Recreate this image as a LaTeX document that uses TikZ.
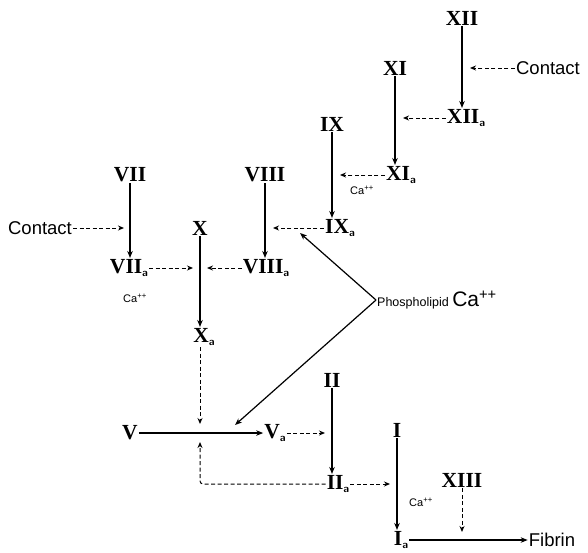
\documentclass[tikz,border=0pt]{standalone}
\usepackage{fontspec}
\setmainfont{Liberation Sans}
\newfontfamily\numfont{Liberation Serif}
\usetikzlibrary{arrows.meta,calc,positioning}
\newcommand{\actv}[1]{#1\raisebox{-0.35ex}{\fontsize{11}{11}\selectfont\sffamily\bfseries a}}

\begin{document}
\begin{tikzpicture}[x=1pt,y=-1pt,
    fac/.style={inner sep=1pt,font=\numfont\bfseries\fontsize{21.5}{21.5}\selectfont},
    word/.style={inner sep=1pt,font=\fontsize{18.5}{18.5}\selectfont},
    calab/.style={inner sep=0pt,font=\fontsize{11}{11}\selectfont},
    conv/.style={-{Stealth[length=7pt,width=5.5pt]},line width=1.2pt},
    actv/.style={-{Stealth[length=6pt,width=5pt]},line width=1pt,dash pattern=on 4pt off 2.5pt}]
  \useasboundingbox (0,0) rectangle (588,552);

  % factors
  \node[fac] (xii) at (462,18) {XII};
  \node[fac] (xiia) at (466,118) {\actv{XII}};
  \node[fac] (xi) at (395,68) {XI};
  \node[fac] (xia) at (401,175) {\actv{XI}};
  \node[fac] (ix) at (332,124) {IX};
  \node[fac] (ixa) at (340,228) {\actv{IX}};
  \node[fac] (vii) at (130,175) {VII};
  \node[fac] (viia) at (129,268) {\actv{VII}};
  \node[fac] (x) at (200,228) {X};
  \node[fac] (viii) at (265,175) {VIII};
  \node[fac] (viiia) at (266,268) {\actv{VIII}};
  \node[fac] (xa) at (204,337) {\actv{X}};
  \node[fac] (v) at (130,433) {V};
  \node[fac] (va) at (275,433) {\actv{V}};
  \node[fac] (ii) at (332,380) {II};
  \node[fac] (iia) at (338,484) {\actv{II}};
  \node[fac] (i) at (397,430) {I};
  \node[fac] (xiii) at (462,480) {XIII};
  \node[fac] (ia) at (401,540) {\actv{I}};

  % other labels
  \node[word] (contactr) at (548,68) {Contact};
  \node[word] (contactl) at (40,228) {Contact};
  \node[word] (fibrin) at (552,540) {Fibrin};
  \node[inner sep=1pt,anchor=west] (phos) at (376,300) {\fontsize{12.5}{12.5}\selectfont Phospholipid \fontsize{21}{21}\selectfont Ca\textsuperscript{++}};
  \node[calab] (caix) at (362,190) {Ca\textsuperscript{++}};
  \node[calab] (cavii) at (135,298) {Ca\textsuperscript{++}};
  \node[calab] (cai) at (421,502) {Ca\textsuperscript{++}};

  % intrinsic side
  \draw[conv] (xii) -- (xii |- xiia.north);
  \draw[actv] (contactr.west) -- ([xshift=8]xii |- contactr);
  \draw[conv] (xi) -- (xi |- xia.north);
  \draw[actv] (xiia.west) -- ([xshift=8]xi |- xiia);
  \draw[conv] (ix) -- (ix |- ixa.north);
  \draw[actv] (xia.west) -- ([xshift=8]ix |- xia);
  \draw[conv] (viii) -- (viii |- viiia.north);
  \draw[actv] (ixa.west) -- ([xshift=8]viii |- ixa);
  \draw[conv] (vii) -- (vii |- viia.north);
  \draw[actv] (contactl.east) -- ([xshift=-6]vii |- contactl);
  \draw[conv] (x) -- (x |- xa.north);
  \draw[actv] (viia.east) -- ([xshift=-7]x |- viia);
  \draw[actv] (viiia.west) -- ([xshift=7]x |- viiia);

  % common pathway
  \draw[actv] (xa.south -| x) -- ([yshift=9]x |- v);
  \draw[conv] (v) -- (va);
  \coordinate (hitix) at (300,233);
  \coordinate (hitv) at (235,425);
  \draw[conv] (phos.west) -- (hitix);
  \draw[conv] (phos.west) -- (hitv);
  \draw[actv] (va) -- ([xshift=-7]ii |- va);
  \draw[conv] (ii) -- (ii |- iia.north);
  \draw[actv,rounded corners=3pt] (iia.west) -| ([yshift=-9]x |- v);
  \draw[actv] (iia) -- ([xshift=-7]i |- iia);
  \draw[conv] (i) -- (i |- ia.north);
  \draw[actv] (xiii) -- ([yshift=8]xiii |- ia);
  \draw[conv] (ia) -- (fibrin);
\end{tikzpicture}
\end{document}
